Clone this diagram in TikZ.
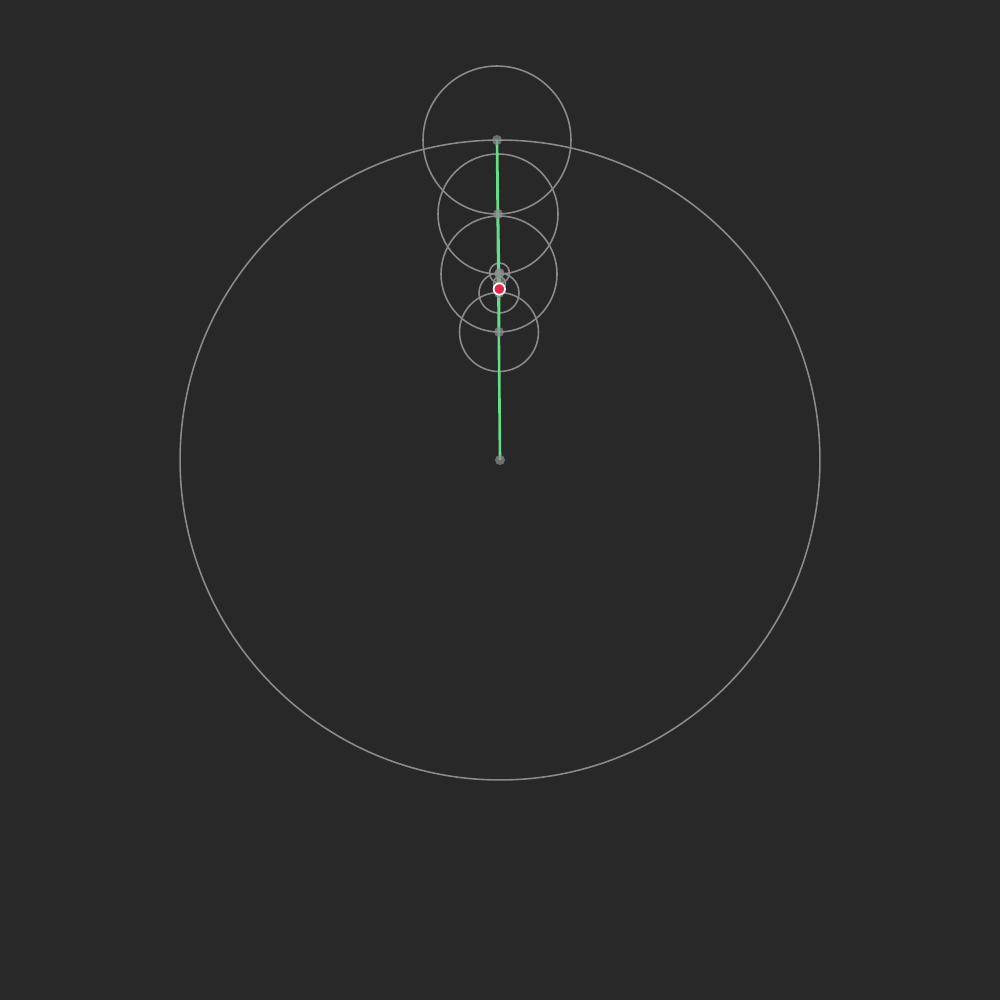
\documentclass[tikz,border=0pt]{standalone}
\usetikzlibrary{backgrounds}
\definecolor{bg}{HTML}{282828}
\definecolor{ring}{HTML}{8A8A8A}
\definecolor{path}{HTML}{66DD88}
\definecolor{tip}{HTML}{E8254A}
\tikzset{
  epi/.style={draw=ring, line width=0.9pt},
  arm/.style={draw=path, line width=1.5pt},
  joint/.style={fill=white!55!black, fill opacity=0.7},
  tipdot/.style={circle, fill=tip, draw=white, line width=1pt, minimum size=6.5pt, inner sep=0pt}
}
\begin{document}
\begin{tikzpicture}[x=0.02cm,y=-0.02cm]
\fill[bg] (0,0) rectangle (1000,1000);
\useasboundingbox (0,0) rectangle (1000,1000);
\coordinate (p0) at (500,460);
\coordinate (p1) at (497,140);
\coordinate (p2) at (498,214);
\coordinate (p3) at (499,274);
\coordinate (p4) at (499,332);
\coordinate (p5) at (499,293);
\coordinate (p6) at (499.5,273);
\coordinate (p7) at (499.5,283);
\coordinate (p8) at (499.3,289);
% epicycles
\draw[epi] (p0) circle[radius=6.4cm];
\draw[epi] (p1) circle[radius=1.48cm];
\draw[epi] (p2) circle[radius=1.2cm];
\draw[epi] (p3) circle[radius=1.16cm];
\draw[epi] (p4) circle[radius=0.79cm];
\draw[epi] (p5) circle[radius=0.4cm];
\draw[epi] (p6) circle[radius=0.2cm];
\draw[epi] (p7) circle[radius=0.12cm];
% arms
\draw[arm] (p0) -- (p1) -- (p2) -- (p3) -- (p4) -- (p5) -- (p6) -- (p7) -- (p8);
% joints
\foreach \p in {p0,p1,p2,p3,p4,p5,p6,p7}
  \fill[joint] (\p) circle[radius=0.1cm];
\node[tipdot] (tip) at (p8) {};
\end{tikzpicture}
\end{document}
